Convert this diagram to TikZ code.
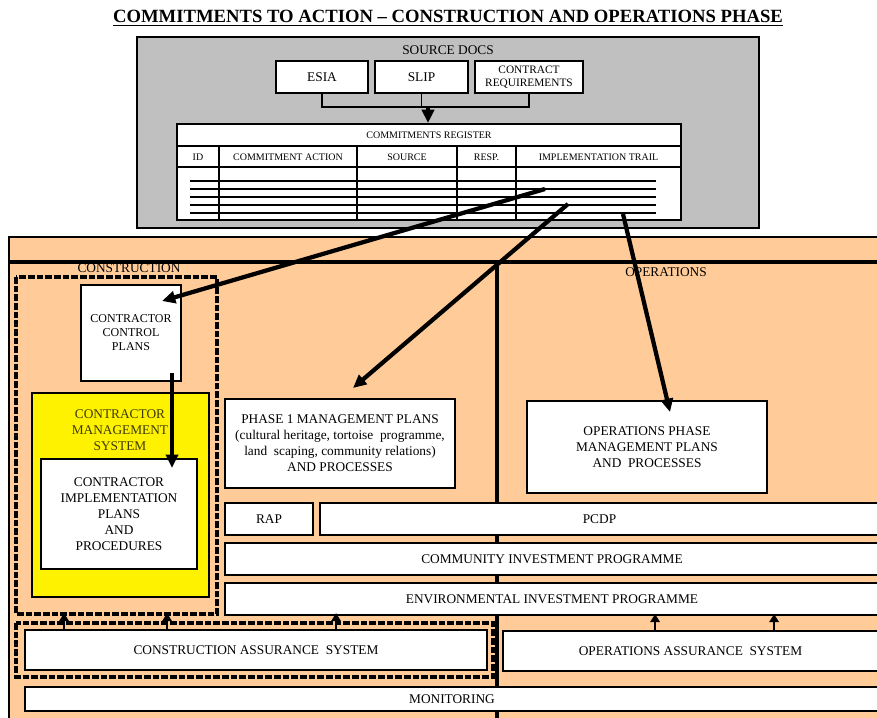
\documentclass[tikz,border=0pt]{standalone}
\usepackage{fontspec}
\setmainfont{Liberation Serif}
\usetikzlibrary{arrows.meta}

\definecolor{greybg}{RGB}{192,192,192}
\definecolor{peach}{RGB}{255,204,153}
\definecolor{cmstext}{RGB}{60,60,0}

\tikzset{
  wbox/.style={draw, fill=white, line width=1.4pt, inner sep=0pt, align=center},
  bigarrow/.style={line width=3.2pt, -{Triangle[length=10pt,width=9pt]}},
  uparrow/.style={line width=1.4pt, -{Triangle[length=6pt,width=7pt]}},
  groupbox/.style={draw, line width=3pt, dash pattern=on 5pt off 1.5pt},
  regtext/.style={font=\fontsize{7.5}{9}\selectfont}
}

\begin{document}
\begin{tikzpicture}[x=0.75pt, y=-0.75pt, font=\fontsize{10}{12}\selectfont]
\useasboundingbox (0,0) rectangle (877,717);
\clip (0,0) rectangle (877,717);

\node[font=\fontsize{14}{16}\selectfont\bfseries] (title) at (448,18) {\underline{COMMITMENTS TO ACTION – CONSTRUCTION AND OPERATIONS PHASE}};

\node[draw, fill=greybg, line width=1.8pt, minimum width=466.5pt, minimum height=143.25pt] (src) at (448,132.5) {};
\node (srclabel) at (448,50) {SOURCE DOCS};
\node[wbox, minimum width=69pt, minimum height=24pt] (esia) at (322,77) {ESIA};
\node[wbox, minimum width=69.75pt, minimum height=24pt] (slip) at (421.5,77) {SLIP};
\node[wbox, minimum width=81pt, minimum height=24pt, font=\fontsize{8.5}{10}\selectfont] (contract) at (529,77) {CONTRACT\\REQUIREMENTS};

\node[wbox, minimum width=378pt, minimum height=72pt] (reg) at (429,172) {};
\node[regtext] (regtitle) at (429,135) {COMMITMENTS REGISTER};
\foreach \x/\t in {198/ID, 288/COMMITMENT ACTION, 407/SOURCE, 486.5/RESP., 598.5/IMPLEMENTATION TRAIL}
  \node[regtext] at (\x,157) {\t};
\draw[line width=1.4pt] (177,146) -- (681,146);
\draw[line width=1.4pt] (177,167) -- (681,167);
\foreach \x in {219,357,457,516}
  \draw[line width=1.4pt] (\x,146) -- (\x,220);
\foreach \y in {181,189,197,205,213}
  \draw[line width=1.6pt] (190,\y) -- (656,\y);

\coordinate (join) at (428,107);
\draw[line width=1.4pt] (esia.south) |- (join) -| (contract.south);
\draw[line width=1.4pt] (slip.south) -- (slip.south |- join);
\draw[bigarrow] (join) -- (join |- reg.north);

\draw[fill=peach, line width=1.8pt] (9,237) rectangle (900,740);
\draw[line width=2.8pt] (9,262) -- (900,262);
\draw[line width=2.8pt] (497,262) -- (497,740);

\node (conlabel) at (129,268) {CONSTRUCTION};
\node (opslabel) at (666,272) {OPERATIONS};

\draw[groupbox] (16,277) rectangle (217,614);

\node[wbox, minimum width=75pt, minimum height=72pt, font=\fontsize{9}{10.5}\selectfont] (ccp) at (131,333) {CONTRACTOR\\CONTROL\\PLANS};
\node[draw, fill=yellow, line width=1.4pt, minimum width=132.75pt, minimum height=153pt] (cms) at (120.5,495) {};
\node[align=center, text=cmstext] (cmslabel) at (120,430) {CONTRACTOR\\MANAGEMENT\\SYSTEM};
\node[wbox, minimum width=117pt, minimum height=82.5pt] (impl) at (119,514) {CONTRACTOR\\IMPLEMENTATION\\PLANS\\AND\\PROCEDURES};

\node[wbox, minimum width=172.5pt, minimum height=66.75pt] (ph1) at (340,443.5) {PHASE 1 MANAGEMENT PLANS\\(cultural heritage, tortoise\ \ programme,\\land\ \ scaping, community relations)\\AND PROCESSES};
\node[wbox, minimum width=180pt, minimum height=69pt] (opm) at (647,447) {OPERATIONS PHASE\\MANAGEMENT PLANS\\AND\ \ PROCESSES};

\node[wbox, minimum width=66pt, minimum height=24pt] (rap) at (269,519) {RAP};
\node[wbox, minimum width=419.25pt, minimum height=24pt] (pcdp) at (599.5,519) {PCDP};
\node[wbox, minimum width=490.5pt, minimum height=24pt] (cip) at (552,559) {COMMUNITY INVESTMENT PROGRAMME};
\node[wbox, minimum width=490.5pt, minimum height=24pt] (eip) at (552,599) {ENVIRONMENTAL INVESTMENT PROGRAMME};

\draw[groupbox] (16,623) rectangle (493,677);
\node[wbox, minimum width=346.5pt, minimum height=30pt] (cas) at (256,650) {CONSTRUCTION ASSURANCE\ \ SYSTEM};
\node[wbox, minimum width=281.25pt, minimum height=30pt] (oas) at (690.5,651) {OPERATIONS ASSURANCE\ \ SYSTEM};
\node[wbox, minimum width=640.5pt, minimum height=18pt] (mon) at (452,699) {MONITORING};

\foreach \dx in {40,143,312}
  \draw[uparrow] ([xshift=\dx*0.75pt]cas.north west) -- ++(0,-16);
\foreach \dx in {153,272}
  \draw[uparrow] ([xshift=\dx*0.75pt]oas.north west) -- ++(0,-16);

\coordinate (t1) at (545,189);
\coordinate (h1) at (162,301);
\coordinate (t2) at (568,204);
\coordinate (h2) at (353,388);
\coordinate (t3) at (623,214);
\coordinate (h3) at (670,412);
\coordinate (v1) at (172,373);
\coordinate (v2) at (172,468);
\draw[bigarrow] (t1) -- (h1);
\draw[bigarrow] (t2) -- (h2);
\draw[bigarrow] (t3) -- (h3);
\draw[bigarrow] (v1) -- (v2);

\end{tikzpicture}
\end{document}
